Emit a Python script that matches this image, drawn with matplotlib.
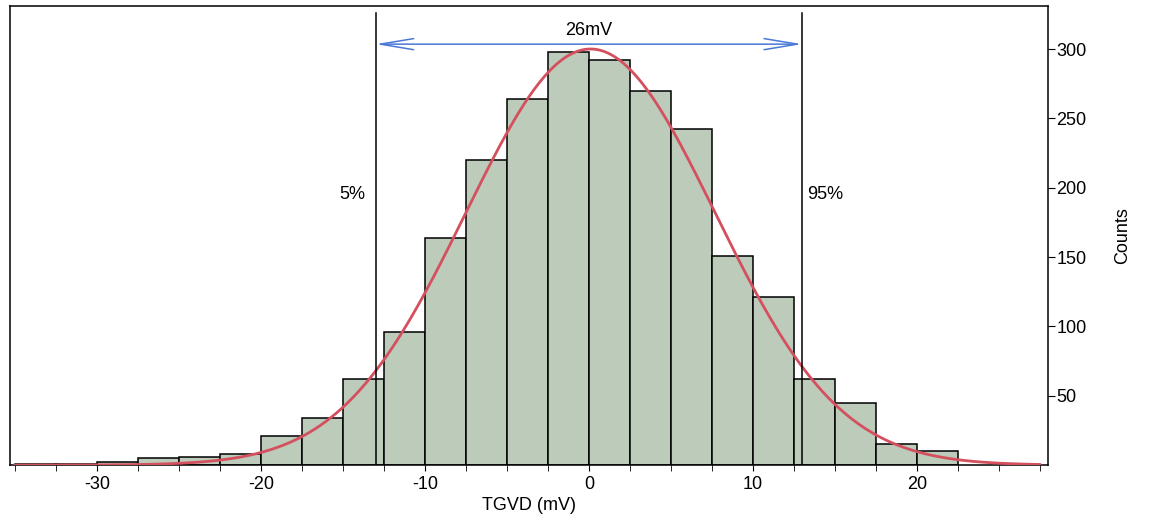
import numpy as np
import matplotlib.pyplot as plt
from matplotlib.ticker import MultipleLocator

plt.rcParams['font.family'] = ['Liberation Sans', 'DejaVu Sans']
plt.rcParams['axes.unicode_minus'] = False

# Histogram bins (left edges, mV) and counts.
bin_left = [-35, -32.5, -30, -27.5, -25, -22.5, -20, -17.5, -15, -12.5,
            -10, -7.5, -5, -2.5, 0, 2.5, 5, 7.5, 10, 12.5,
            15, 17.5, 20]
counts = [1, 1, 2, 5, 6, 8, 21, 34, 62, 96,
          164, 220, 264, 298, 292, 270, 242, 151, 121, 62,
          45, 15, 10]
bin_width = 2.5

# Gaussian fit parameters.
fit_amp = 300
fit_mean = 0.1
fit_sigma = 7.6
fit_range = (-35, 27.5)

# 5% / 95% markers
p5 = -13
p95 = 13
spread_label = '26mV'

fs = 13

fig = plt.figure(figsize=(11.52, 5.22), dpi=100)
ax = fig.add_axes([0.0087, 0.109, 0.901, 0.8795])

ax.bar(bin_left, counts, width=bin_width, align='edge',
       color='#bccbba', edgecolor='black', linewidth=1.1, zorder=2)

xf = np.linspace(fit_range[0], fit_range[1], 400)
yf = fit_amp * np.exp(-(xf - fit_mean) ** 2 / (2 * fit_sigma ** 2))
ax.plot(xf, yf, color='#d4505f', lw=2, zorder=3)

ax.set_xlim(-35.3, 28.0)
ax.set_ylim(0, 331)

for xv in (p5, p95):
    ax.plot([xv, xv], [0, 326], color='black', lw=1.1, zorder=4)

ax.annotate('', xy=(p5, 303.5), xytext=(p95, 303.5),
            arrowprops=dict(arrowstyle='<->,head_length=2.4,head_width=0.4',
                            color='#4a78d8', lw=1.1, mutation_scale=10,
                            shrinkA=0, shrinkB=0), zorder=5)
ax.text((p5 + p95) / 2, 313.5, spread_label, ha='center', va='center', fontsize=fs)
ax.text(p5 - 0.65, 195, '5%', ha='right', va='center', fontsize=fs)
ax.text(p95 + 0.3, 195, '95%', ha='left', va='center', fontsize=fs)

ax.yaxis.tick_right()
ax.yaxis.set_label_position('right')
ax.set_yticks([50, 100, 150, 200, 250, 300])
ax.tick_params(axis='y', direction='out', length=5, labelsize=fs, pad=1)
ax.xaxis.set_major_locator(MultipleLocator(10))
ax.xaxis.set_minor_locator(MultipleLocator(2.5))
ax.tick_params(axis='x', which='both', direction='out', length=4, labelsize=fs)
ax.set_xlabel('TGVD (mV)', fontsize=fs, labelpad=3)
ax.set_ylabel('Counts', fontsize=fs, labelpad=20)

for s in ax.spines.values():
    s.set_linewidth(1.1)

fig.savefig('out.png', dpi=100)
